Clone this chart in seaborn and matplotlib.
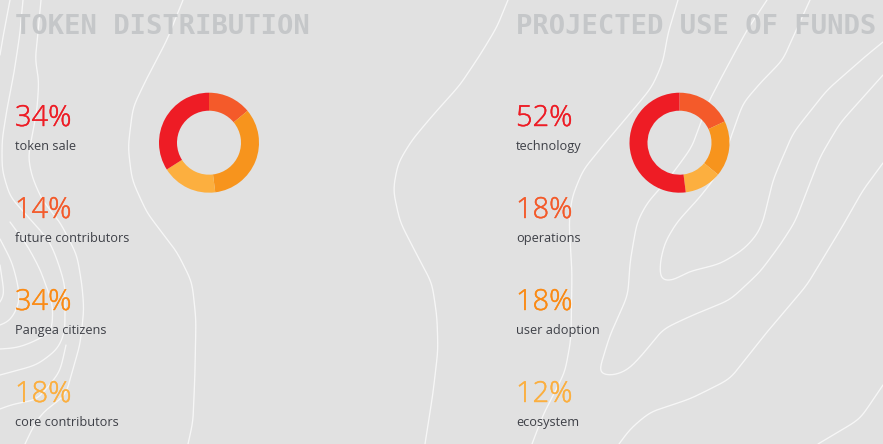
import numpy as np
import matplotlib
matplotlib.use("Agg")
import matplotlib.pyplot as plt
import matplotlib.patheffects as pe
import seaborn as sns

# Allocation figures, clockwise order of the ring starts at 12 o'clock
token_labels = ["future contributors", "Pangea citizens", "core contributors", "token sale"]
token_values = [14, 34, 18, 34]
funds_labels = ["operations", "user adoption", "ecosystem", "technology"]
funds_values = [18, 18, 12, 52]

ring_colors = ["#f45a2a", "#f7941d", "#fcaf3f", "#ee1c25"]
text_colors = ["#f45a2a", "#fb8a14", "#fcaf3f", "#ee1c25"]

# Decorative terrain contours, in canvas pixels
contours = [
    [(183,0),(167,40),(147,78),(133,107),(128,147),(132,180),(147,213),(177,252),(192,282),(196,319),(195,372),(193,422),(188,444)],
    [(41,0),(38,33),(35,60),(39,80),(37,110),(28,157),(32,177),(42,200),(60,222),(77,255),(82,285),(84,309),(80,345),(72,372),(66,395),(43,412),(34,425),(25,444)],
    [(23,0),(20,33),(14,73),(8,103),(2,140),(2,170),(10,197),(33,222),(50,242),(58,262),(65,285),(65,332),(58,349),(37,365),(0,375)],
    [(10,0),(3,37),(0,55)],
    [(10,222),(27,245),(40,269),(53,305),(52,332),(33,342),(17,348),(0,349)],
    [(0,239),(12,262),(18,285),(20,302),(10,322),(0,325)],
    [(0,265),(3,285),(5,297),(0,302)],
    [(66,345),(60,372),(37,400),(13,404),(0,409)],
    [(508,0),(497,27),(480,55),(460,85),(433,115),(412,140),(398,163),(393,190),(400,222),(418,257),(432,283),(437,317),(438,350),(433,393),(425,444)],
    [(678,0),(668,33),(663,62),(652,87),(633,110),(610,137),(583,170),(572,197),(569,222),(572,272),(571,339),(565,372),(543,415),(532,444)],
    [(767,0),(747,30),(727,67),(708,103),(692,147),(670,177),(647,203),(637,222),(630,262),(628,295),(610,335),(598,374),(613,376),(628,370),(643,354),(663,329),(693,315),(730,300),(760,272),(780,245),(795,222),(820,157),(840,123),(867,93),(883,75)],
    [(810,0),(793,37),(783,60),(763,80),(743,103),(730,140),(717,175),(700,197),(677,222),(665,242),(660,262),(660,281),(673,281),(687,272),(720,264),(743,250),(757,235),(763,222),(773,180),(793,133),(827,90),(867,55),(883,42)],
    [(883,163),(863,190),(845,222),(807,285),(767,332),(730,379),(690,399),(650,412),(630,429),(619,444)],
    [(883,385),(860,419),(818,444)],
]

BG = "#e1e1e1"
sns.set_theme(style="white", rc={"figure.facecolor": BG, "axes.facecolor": BG})


def smooth(points, sigma=7.0):
    """Resample a polyline at 1 px steps and round it with a Gaussian kernel."""
    p = np.asarray(points, float)
    s = np.r_[0, np.cumsum(np.hypot(*np.diff(p, axis=0).T))]
    u = np.arange(0, s[-1] + 1)
    xy = np.c_[np.interp(u, s, p[:, 0]), np.interp(u, s, p[:, 1])]
    n = min(int(4 * sigma), len(xy) - 1)
    k = np.exp(-0.5 * (np.arange(-n, n + 1) / sigma) ** 2)
    k /= k.sum()
    # Point-reflect the ends so the curve still finishes on its last vertex
    head = 2 * xy[0] - xy[n:0:-1]
    tail = 2 * xy[-1] - xy[-2:-n - 2:-1]
    full = np.vstack([head, xy, tail])
    return np.c_[np.convolve(full[:, 0], k, "valid"), np.convolve(full[:, 1], k, "valid")]


W, H = 883, 444
fig = plt.figure(figsize=(W / 100, H / 100), dpi=100)
bg = fig.add_axes([0, 0, 1, 1])

for line in contours:
    xy = smooth(line)
    sns.lineplot(x=xy[:, 0], y=xy[:, 1], ax=bg, sort=False, estimator=None, color="white", lw=0.95, alpha=0.72, zorder=1)
bg.set_xlim(0, W)
bg.set_ylim(H, 0)
bg.axis("off")

px = 0.72  # points per canvas pixel at 100 dpi


def panel(x, title, labels, values, ring_cx):
    bg.text(x, 34, title, family="DejaVu Sans Mono", weight="bold", fontsize=27.1 * px, color="#c5c7c9", zorder=3)
    # The largest row of each list sits first, the ring order continues below it
    for row, i in enumerate([3, 0, 1, 2]):
        base = 126 + 92 * row
        t = bg.text(x, base, f"{values[i]}%", family="Open Sans", weight="light", fontsize=29 * px, color=text_colors[i], zorder=3)
        t.set_path_effects([pe.withStroke(linewidth=0.3, foreground=text_colors[i])])
        bg.text(x, base + 24, labels[i], family="Open Sans", fontsize=12.7 * px, color="#3e4047", zorder=3)
    R = 50
    ax = fig.add_axes([(ring_cx - R) / W, 1 - (142.7 + R) / H, 2 * R / W, 2 * R / H])
    ax.pie(values, colors=sns.color_palette(ring_colors), startangle=90, counterclock=False,
           radius=1, wedgeprops={"width": 0.36, "linewidth": 0})
    ax.set_xlim(-1, 1)
    ax.set_ylim(-1, 1)
    ax.patch.set_alpha(0)


panel(15, "TOKEN DISTRIBUTION", token_labels, token_values, 209)
panel(516, "PROJECTED USE OF FUNDS", funds_labels, funds_values, 679.5)

fig.savefig("out.png", dpi=100, facecolor=BG)
